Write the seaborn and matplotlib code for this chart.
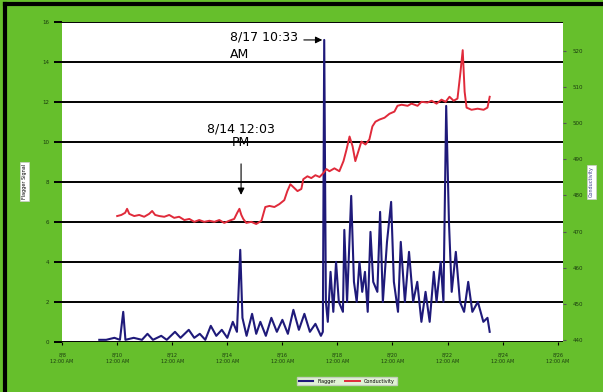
import pandas as pd
import matplotlib.pyplot as plt
import seaborn as sns
from matplotlib.lines import Line2D

start = pd.Timestamp("2006-08-08")

# days since 8/8 00:00 and flagger signal
flag_day = [1.35, 1.6, 1.9, 2.1, 2.22, 2.3, 2.6, 2.9, 3.1, 3.3, 3.6, 3.8, 4.1, 4.3, 4.6, 4.8,
            5.0, 5.2, 5.4, 5.6, 5.8, 6.0, 6.2, 6.35, 6.47, 6.55, 6.7, 6.9, 7.05, 7.2, 7.4,
            7.6, 7.8, 8.0, 8.2, 8.4, 8.6, 8.8, 9.0, 9.2, 9.4, 9.47, 9.52, 9.58, 9.65, 9.75,
            9.85, 9.95, 10.05, 10.2, 10.25, 10.35, 10.5, 10.6, 10.7, 10.8, 10.9, 11.0,
            11.1, 11.2, 11.3, 11.45, 11.55, 11.65, 11.8, 11.95, 12.05, 12.2, 12.3, 12.45,
            12.6, 12.75, 12.9, 13.05, 13.2, 13.35, 13.5, 13.6, 13.75, 13.85, 13.95, 14.05,
            14.15, 14.3, 14.45, 14.6, 14.75, 14.9, 15.1, 15.3, 15.45, 15.53]
flag_val = [0.1, 0.1, 0.2, 0.1, 1.5, 0.1, 0.2, 0.1, 0.4, 0.1, 0.3, 0.1, 0.5, 0.2, 0.6, 0.2,
            0.4, 0.1, 0.8, 0.3, 0.6, 0.2, 1.0, 0.5, 4.6, 1.2, 0.3, 1.4, 0.4, 1.0, 0.3,
            1.2, 0.5, 1.1, 0.4, 1.6, 0.6, 1.4, 0.5, 0.9, 0.3, 0.5, 15.1, 2.0, 1.0, 3.5,
            1.5, 4.0, 2.0, 1.5, 5.6, 2.0, 7.3, 3.0, 2.0, 4.0, 2.5, 3.5,
            1.5, 5.5, 3.0, 2.5, 6.5, 2.0, 5.0, 7.0, 3.0, 1.5, 5.0, 2.0,
            4.5, 2.0, 3.0, 1.0, 2.5, 1.0, 3.5, 2.0, 4.0, 2.0, 11.8, 6.0,
            2.5, 4.5, 2.0, 1.5, 3.0, 1.5, 2.0, 1.0, 1.2, 0.5]

# days since 8/8 00:00 and conductivity
cond_day = [2.00, 2.15, 2.29, 2.36, 2.44, 2.62, 2.80, 2.98, 3.16, 3.27, 3.38, 3.53, 3.71, 3.89,
            4.07, 4.25, 4.44, 4.62, 4.80, 4.98, 5.16, 5.35, 5.53, 5.71, 5.89, 6.07, 6.25,
            6.36, 6.44, 6.51, 6.58, 6.69, 6.87, 7.05, 7.24, 7.31, 7.38, 7.53, 7.71, 7.89,
            8.07, 8.18, 8.29, 8.40, 8.55, 8.69, 8.76, 8.91, 9.05, 9.20, 9.35, 9.49, 9.60,
            9.71, 9.89, 10.07, 10.22, 10.33, 10.44, 10.55, 10.65, 10.76, 10.87, 11.02,
            11.16, 11.27, 11.38, 11.53, 11.71, 11.89, 12.07, 12.18, 12.33, 12.55, 12.69,
            12.91, 13.05, 13.27, 13.42, 13.60, 13.78, 13.93, 14.07, 14.22, 14.36, 14.47,
            14.55, 14.62, 14.69, 14.87, 15.09, 15.31, 15.45, 15.53]
cond_val = [474.3, 474.6, 475.2, 476.3, 474.9, 474.3, 474.6, 474.1, 474.9, 475.7, 474.6, 474.3,
            474.1, 474.6, 473.8, 474.1, 473.2, 473.5, 472.7, 473.2, 472.7, 473.0, 472.7,
            473.2, 472.4, 473.0, 473.5, 475.2, 476.3, 474.6, 473.5, 472.4, 472.7, 472.1,
            473.0, 474.9, 476.8, 477.1, 476.8, 477.6, 478.7, 481.2, 483.1, 482.3, 481.2,
            481.8, 484.5, 485.3, 484.8, 485.6, 485.1, 486.2, 487.3, 486.7, 487.5, 486.7,
            489.5, 492.7, 496.3, 493.6, 489.5, 492.2, 494.9, 494.1, 495.5, 499.1, 500.4,
            501.0, 501.5, 502.6, 503.2, 504.8, 505.1, 504.8, 505.4, 504.8, 505.9, 505.7,
            506.2, 505.4, 506.5, 505.9, 507.3, 506.2, 506.8, 514.2, 520.2, 508.7, 504.3,
            503.7, 504.0, 503.7, 504.3, 507.3]

left_ticks = [0, 2, 4, 6, 8, 10, 12, 14, 16]
right_ticks = [440, 450, 460, 470, 480, 490, 500, 510, 520]
x_tick_labels = ["8/8\n12:00 AM", "8/10\n12:00 AM", "8/12\n12:00 AM", "8/14\n12:00 AM",
                 "8/16\n12:00 AM", "8/18\n12:00 AM", "8/20\n12:00 AM", "8/22\n12:00 AM",
                 "8/24\n12:00 AM", "8/26\n12:00 AM"]

flag = pd.DataFrame({"time": start + pd.to_timedelta(flag_day, unit="D"), "Flagger": flag_val})
cond = pd.DataFrame({"time": start + pd.to_timedelta(cond_day, unit="D"), "Conductivity": cond_val})

def day(d):
    return start + pd.Timedelta(days=d)

green = "#66bf2c"
fig = plt.figure(figsize=(6.03, 3.92), dpi=100, facecolor=green)
# black frame on top and left, as in the scanned original
fig.add_artist(Line2D([0.008, 0.008], [0.0, 0.99], transform=fig.transFigure, color="black", lw=3))
fig.add_artist(Line2D([0.008, 1.0], [0.99, 0.99], transform=fig.transFigure, color="black", lw=3))

ax = fig.add_axes([0.103, 0.128, 0.831, 0.816])
ax.set_facecolor("white")

sns.lineplot(data=flag, x="time", y="Flagger", ax=ax, color="#1f1a7a", lw=1.5, label="Flagger", legend=False)
ax2 = ax.twinx()
sns.lineplot(data=cond, x="time", y="Conductivity", ax=ax2, color="#e02a3a", lw=1.4, label="Conductivity", legend=False)

ax.set_ylim(0, 16)
ax.set_yticks(left_ticks)
ax.set_yticklabels([str(t) for t in left_ticks], fontsize=4, color="#1a3a10")
ax.yaxis.grid(True, color="black", lw=1.4)
ax.set_axisbelow(True)
ax2.set_ylim(439.5, 528)
ax2.set_yticks(right_ticks)
ax2.set_yticklabels([str(t) for t in right_ticks], fontsize=4, color="#1a3a10")

ax.set_xlim(start, day(18.2))
ax.set_xticks([day(2 * i) for i in range(10)])
ax.set_xticklabels(x_tick_labels, fontsize=3.5, color="#1a3a10")
ax.tick_params(axis="x", length=2, pad=6)
ax.tick_params(axis="y", length=6, width=1.4, color="black", pad=3)
ax2.tick_params(axis="y", length=2, color="#555555", pad=5)
for a in (ax, ax2):
    for s in a.spines.values():
        s.set_visible(False)

box = dict(boxstyle="square,pad=0.4", fc="white", ec="#cccccc", lw=0.5)
ax.set_xlabel("")
ax.set_ylabel("Flagger Signal", fontsize=3.5, labelpad=11, bbox=box)
ax2.set_ylabel("Conductivity", fontsize=3.5, labelpad=4, bbox=box, color="#3a3a8a")

ax.text(day(7.35), 15.55, "8/17 10:33", fontsize=9, ha="center", va="top")
ax.text(day(6.45), 14.7, "AM", fontsize=9, ha="center", va="top")
ax.annotate("", xy=(day(9.45), 15.1), xytext=(day(8.78), 15.1),
            arrowprops=dict(arrowstyle="-|>", color="black", lw=0.8, shrinkA=0, shrinkB=0))
ax.text(day(6.5), 10.95, "8/14 12:03\nPM", fontsize=9, ha="center", va="top", linespacing=1.0)
ax.annotate("", xy=(day(6.5), 7.35), xytext=(day(6.5), 8.9),
            arrowprops=dict(arrowstyle="-|>", color="black", lw=0.8, shrinkA=0, shrinkB=0))

h1, l1 = ax.get_legend_handles_labels()
h2, l2 = ax2.get_legend_handles_labels()
fig.legend(h1 + h2, l1 + l2, loc="center", bbox_to_anchor=(0.575, 0.028), ncol=2, fontsize=3.5,
           frameon=True, fancybox=False, edgecolor="#cccccc", handlelength=3, borderpad=0.4)

fig.savefig("out.png", dpi=100, facecolor=fig.get_facecolor())
